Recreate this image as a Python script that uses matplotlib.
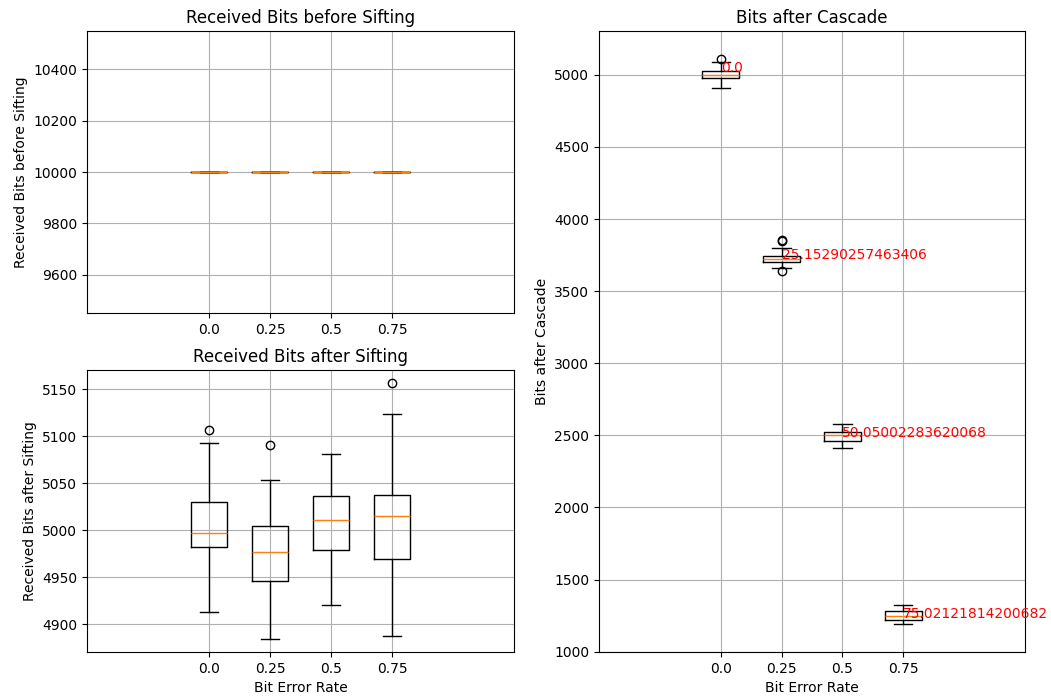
import matplotlib
matplotlib.use('Agg')
import matplotlib.pyplot as plt

# ---- data ----
ber = [0.0, 0.25, 0.5, 0.75]
ber_labels = ['0.0', '0.25', '0.5', '0.75']

# Received bits before sifting (constant)
before_whislo = [10000, 10000, 10000, 10000]
before_q1 = [10000, 10000, 10000, 10000]
before_med = [10000, 10000, 10000, 10000]
before_q3 = [10000, 10000, 10000, 10000]
before_whishi = [10000, 10000, 10000, 10000]
before_fliers = [[], [], [], []]

# Received bits after sifting
sift_whislo = [4913, 4884, 4920, 4887]
sift_q1 = [4982, 4946, 4979, 4969]
sift_med = [4997, 4977, 5011, 5015]
sift_q3 = [5030, 5004, 5036, 5038]
sift_whishi = [5093, 5053, 5081, 5124]
sift_fliers = [[5107], [5091], [], [5157]]

# Bits after cascade
casc_whislo = [4910, 3657, 2411, 1193]
casc_q1 = [4976, 3699, 2463, 1222]
casc_med = [5002, 3724, 2502, 1247]
casc_q3 = [5023, 3740, 2525, 1279]
casc_whishi = [5090, 3798, 2577, 1321]
casc_fliers = [[5108], [3846, 3853, 3641], [], []]
casc_text_y = [5018, 3724, 2491, 1236]
casc_text = ['0.0', '25.15290257463406', '50.05002283620068', '75.02121814200682']


def make_stats(wlo, q1, med, q3, whi, fl):
    return [dict(whislo=a, q1=b, med=c, q3=d, whishi=e, fliers=f)
            for a, b, c, d, e, f in zip(wlo, q1, med, q3, whi, fl)]


fig = plt.figure(figsize=(10.51, 6.98), dpi=100)
W, H = 1051, 698


def add_ax(x0, y0, x1, y1):
    return fig.add_axes([x0 / W, 1 - y1 / H, (x1 - x0) / W, (y1 - y0) / H])


ax1 = add_ax(87, 31, 514, 313)
ax2 = add_ax(87, 370, 514, 652)
ax3 = add_ax(599, 31, 1025, 652)

for ax, st in [
    (ax1, make_stats(before_whislo, before_q1, before_med, before_q3, before_whishi, before_fliers)),
    (ax2, make_stats(sift_whislo, sift_q1, sift_med, sift_q3, sift_whishi, sift_fliers)),
    (ax3, make_stats(casc_whislo, casc_q1, casc_med, casc_q3, casc_whishi, casc_fliers)),
]:
    ax.bxp(st, positions=ber, widths=0.15)
    ax.set_xticks(ber)
    ax.set_xticklabels(ber_labels)
    ax.set_xlim(-0.5, 1.25)
    ax.grid(True)

ax1.set_title('Received Bits before Sifting')
ax1.set_ylabel('Received Bits before Sifting')

ax2.set_title('Received Bits after Sifting')
ax2.set_ylabel('Received Bits after Sifting')
ax2.set_xlabel('Bit Error Rate')

ax3.set_title('Bits after Cascade')
ax3.set_ylabel('Bits after Cascade')
ax3.set_xlabel('Bit Error Rate')
for x, y, t in zip(ber, casc_text_y, casc_text):
    ax3.text(x, y, t, color='red')

fig.savefig('out.png', dpi=100)
